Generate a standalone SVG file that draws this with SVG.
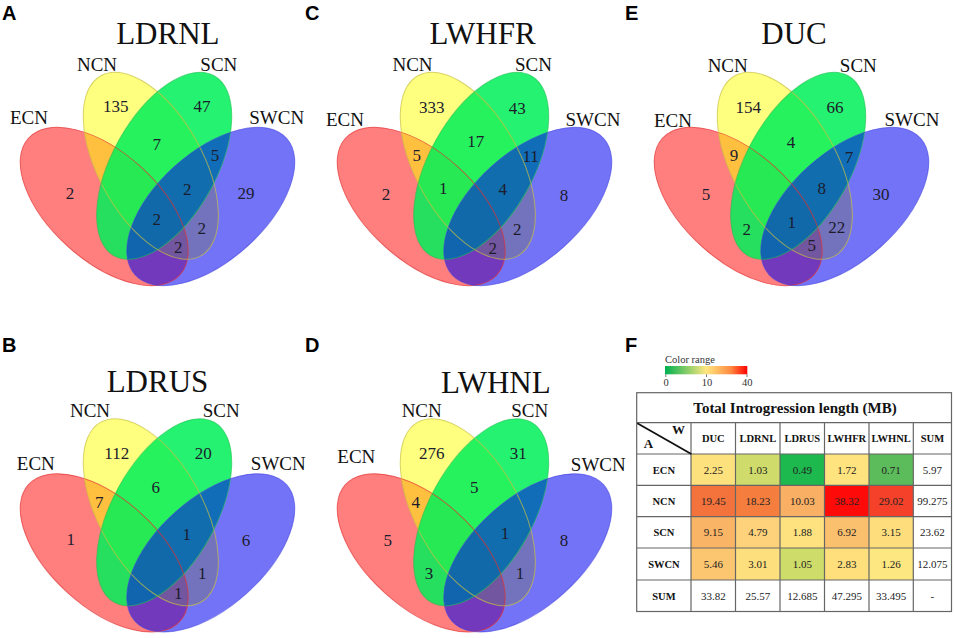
<svg xmlns="http://www.w3.org/2000/svg" xmlns:xlink="http://www.w3.org/1999/xlink" width="955" height="638" viewBox="0 0 955 638">
<style>
.t{font-family:"Liberation Serif","Times New Roman",serif;fill:#111}
.title{font-size:31px;text-anchor:middle}
.lab{font-size:19px;text-anchor:middle}
.num{font-size:17px;text-anchor:middle;fill:#1c1c2c}
.pl{font-family:"Liberation Sans",Arial,sans-serif;font-weight:bold;font-size:20px;fill:#000}
.fE{fill:#ff0000;fill-opacity:0.5}
.fN{fill:#ffff00;fill-opacity:0.5}
.fS{fill:#00f058;fill-opacity:0.85}
.fW{fill:#0000f0;fill-opacity:0.55}
.oE{fill:none;stroke:#e23030;stroke-opacity:0.7;stroke-width:1}
.oN{fill:none;stroke:#c8c040;stroke-opacity:0.7;stroke-width:1}
.oS{fill:none;stroke:#20c050;stroke-opacity:0.6;stroke-width:1}
.oW{fill:none;stroke:#4040e0;stroke-opacity:0.6;stroke-width:1}
.grid{stroke:#666;stroke-width:1.2;fill:none}
.th{font-family:"Liberation Serif","Times New Roman",serif;font-weight:bold;font-size:10.5px;text-anchor:middle;fill:#111}
.td{font-family:"Liberation Serif","Times New Roman",serif;font-size:11px;text-anchor:middle;fill:#222}
.sm{font-family:"Liberation Serif","Times New Roman",serif;font-size:10.5px;fill:#333}
</style>
<defs>
<ellipse id="eE" cx="0" cy="0" rx="102" ry="54" transform="translate(-53.3,44) rotate(42)"/>
<ellipse id="eN" cx="0" cy="0" rx="103" ry="52" transform="translate(-6.7,3.3) rotate(61)"/>
<ellipse id="eS" cx="0" cy="0" rx="103" ry="52" transform="translate(6.7,3.3) rotate(-61)"/>
<ellipse id="eW" cx="0" cy="0" rx="102" ry="54" transform="translate(53.3,44) rotate(-42)"/>
<g id="venn">
<use xlink:href="#eE" href="#eE" class="fE"/>
<use xlink:href="#eN" href="#eN" class="fN"/>
<use xlink:href="#eS" href="#eS" class="fS"/>
<use xlink:href="#eW" href="#eW" class="fW"/>
<use xlink:href="#eE" href="#eE" class="oE"/>
<use xlink:href="#eN" href="#eN" class="oN"/>
<use xlink:href="#eS" href="#eS" class="oS"/>
<use xlink:href="#eW" href="#eW" class="oW"/>
</g>
<linearGradient id="cr" x1="0" y1="0" x2="1" y2="0">
<stop offset="0" stop-color="#00b050"/>
<stop offset="0.5" stop-color="#ffe680"/>
<stop offset="0.8" stop-color="#ff8a40"/>
<stop offset="1" stop-color="#ff0000"/>
</linearGradient>
</defs>
<rect width="955" height="638" fill="#fff"/>

<!-- panel letters -->
<text class="pl" x="2" y="20">A</text>
<text class="pl" x="305" y="20">C</text>
<text class="pl" x="625" y="20">E</text>
<text class="pl" x="2" y="352">B</text>
<text class="pl" x="305" y="352">D</text>
<text class="pl" x="625" y="352">F</text>

<!-- Panel A -->
<g id="panelA" transform="translate(157.5,162.5)">
<use xlink:href="#venn" href="#venn"/>
<text class="t title" x="10.3" y="-118.5">LDRNL</text>
<text class="t lab" x="-60.5" y="-91.5">NCN</text>
<text class="t lab" x="61.3" y="-91.5">SCN</text>
<text class="t lab" x="-128.5" y="-38.5">ECN</text>
<text class="t lab" x="119.2" y="-38.5">SWCN</text>
<text class="t num" x="-41.8" y="-50.3">135</text>
<text class="t num" x="44.5" y="-50.3">47</text>
<text class="t num" x="-0.8" y="-13">7</text>
<text class="t num" x="57.5" y="-1.3">5</text>
<text class="t num" x="-87.5" y="36">2</text>
<text class="t num" x="29.8" y="32">2</text>
<text class="t num" x="88.5" y="36">29</text>
<text class="t num" x="-0.8" y="62.7">2</text>
<text class="t num" x="44.2" y="71.4">2</text>
<text class="t num" x="20.8" y="90.4">2</text>
</g>

<!-- Panel C -->
<g id="panelC" transform="translate(474.5,162.5)">
<use xlink:href="#venn" href="#venn"/>
<text class="t title" x="8" y="-118.5">LWHFR</text>
<text class="t lab" x="-62" y="-91.5">NCN</text>
<text class="t lab" x="59" y="-91.5">SCN</text>
<text class="t lab" x="-129.5" y="-36.5">ECN</text>
<text class="t lab" x="118.5" y="-37">SWCN</text>
<text class="t num" x="-42.8" y="-49.6">333</text>
<text class="t num" x="42.8" y="-49">43</text>
<text class="t num" x="1.2" y="-15.6">17</text>
<text class="t num" x="-57.8" y="-1.3">5</text>
<text class="t num" x="56.2" y="-0.3">11</text>
<text class="t num" x="-88.5" y="37">2</text>
<text class="t num" x="-31.2" y="31">1</text>
<text class="t num" x="28.2" y="32">4</text>
<text class="t num" x="89.5" y="38">8</text>
<text class="t num" x="42.8" y="72">2</text>
<text class="t num" x="18.2" y="91">2</text>
</g>

<!-- Panel E -->
<g id="panelE" transform="translate(791.5,162.5)">
<use xlink:href="#venn" href="#venn"/>
<text class="t title" x="2.5" y="-118.5">DUC</text>
<text class="t lab" x="-63.8" y="-91">NCN</text>
<text class="t lab" x="66.8" y="-91">SCN</text>
<text class="t lab" x="-118.5" y="-36">ECN</text>
<text class="t lab" x="120.5" y="-36.5">SWCN</text>
<text class="t num" x="-43.2" y="-49.6">154</text>
<text class="t num" x="43.5" y="-49.6">66</text>
<text class="t num" x="-0.5" y="-14.6">4</text>
<text class="t num" x="-57.5" y="-1.3">9</text>
<text class="t num" x="57.5" y="0.4">7</text>
<text class="t num" x="-85.5" y="37">5</text>
<text class="t num" x="30.2" y="31">8</text>
<text class="t num" x="89.5" y="37">30</text>
<text class="t num" x="-44.8" y="72">2</text>
<text class="t num" x="0.2" y="65.4">1</text>
<text class="t num" x="45.2" y="70.4">22</text>
<text class="t num" x="20.2" y="88.7">5</text>
</g>

<!-- Panel B -->
<g id="panelB" transform="translate(157.5,508.9)">
<use xlink:href="#venn" href="#venn"/>
<text class="t title" x="0" y="-117.2">LDRUS</text>
<text class="t lab" x="-67.5" y="-91.6">NCN</text>
<text class="t lab" x="63.7" y="-91.6">SCN</text>
<text class="t lab" x="-121.7" y="-38.9">ECN</text>
<text class="t lab" x="120.8" y="-38.9">SWCN</text>
<text class="t num" x="-40.8" y="-49.6">112</text>
<text class="t num" x="45.8" y="-49.6">20</text>
<text class="t num" x="-1.8" y="-16.2">6</text>
<text class="t num" x="-58.2" y="-1.2">7</text>
<text class="t num" x="-86.8" y="36.1">1</text>
<text class="t num" x="29.2" y="31.4">1</text>
<text class="t num" x="88.5" y="37.1">6</text>
<text class="t num" x="44.8" y="69.8">1</text>
<text class="t num" x="20.8" y="90.4">1</text>
</g>

<!-- Panel D -->
<g id="panelD" transform="translate(474.5,508.9)">
<use xlink:href="#venn" href="#venn"/>
<text class="t title" x="21.3" y="-116.2">LWHNL</text>
<text class="t lab" x="-52.8" y="-92.2">NCN</text>
<text class="t lab" x="55.2" y="-92.2">SCN</text>
<text class="t lab" x="-118.2" y="-46.2">ECN</text>
<text class="t lab" x="123.8" y="-38.2">SWCN</text>
<text class="t num" x="-42.8" y="-49.6">276</text>
<text class="t num" x="43.8" y="-49.6">31</text>
<text class="t num" x="-0.2" y="-16.2">5</text>
<text class="t num" x="-58.8" y="-1.2">4</text>
<text class="t num" x="-86.8" y="37.1">5</text>
<text class="t num" x="30.5" y="30.4">1</text>
<text class="t num" x="89.5" y="37.1">8</text>
<text class="t num" x="-45.5" y="70.4">3</text>
<text class="t num" x="45.5" y="70.4">1</text>
</g>

<!-- Panel F -->
<g id="panelF">
<text class="sm" x="665" y="362.7">Color range</text>
<rect x="665" y="366" width="82.3" height="8.3" fill="url(#cr)"/>
<g stroke="#555" stroke-width="0.8">
<line x1="665.8" y1="374.3" x2="665.8" y2="377"/>
<line x1="706.5" y1="374.3" x2="706.5" y2="377"/>
<line x1="747" y1="374.3" x2="747" y2="377"/>
</g>
<text class="sm" x="666" y="385.5" text-anchor="middle">0</text>
<text class="sm" x="707" y="385.5" text-anchor="middle">10</text>
<text class="sm" x="747.3" y="385.5" text-anchor="middle">40</text>

<g id="cells">
<rect x="691" y="454" width="44.5" height="31.3" fill="#fde17c"/>
<rect x="735.5" y="454" width="44.5" height="31.3" fill="#cfdc6c"/>
<rect x="780" y="454" width="44.5" height="31.3" fill="#1db84e"/>
<rect x="824.5" y="454" width="44.5" height="31.3" fill="#fee37e"/>
<rect x="869" y="454" width="44.3" height="31.3" fill="#5cbb5a"/>

<rect x="691" y="485.3" width="44.5" height="31.4" fill="#f4733c"/>
<rect x="735.5" y="485.3" width="44.5" height="31.4" fill="#f57e3f"/>
<rect x="780" y="485.3" width="44.5" height="31.4" fill="#f9af64"/>
<rect x="824.5" y="485.3" width="44.5" height="31.4" fill="#fe0a08"/>
<rect x="869" y="485.3" width="44.3" height="31.4" fill="#f5412a"/>

<rect x="691" y="516.7" width="44.5" height="31.3" fill="#fab466"/>
<rect x="735.5" y="516.7" width="44.5" height="31.3" fill="#fdd27a"/>
<rect x="780" y="516.7" width="44.5" height="31.3" fill="#fee27f"/>
<rect x="824.5" y="516.7" width="44.5" height="31.3" fill="#fbc06e"/>
<rect x="869" y="516.7" width="44.3" height="31.3" fill="#fede7c"/>

<rect x="691" y="548" width="44.5" height="32" fill="#fcc670"/>
<rect x="735.5" y="548" width="44.5" height="32" fill="#fedf7d"/>
<rect x="780" y="548" width="44.5" height="32" fill="#cedc6a"/>
<rect x="824.5" y="548" width="44.5" height="32" fill="#fedf7c"/>
<rect x="869" y="548" width="44.3" height="32" fill="#fde780"/>
</g>

<g class="grid">
<rect x="636.7" y="392.7" width="314.8" height="218.8"/>
<line x1="636.7" y1="422.7" x2="951.5" y2="422.7"/>
<line x1="636.7" y1="454" x2="951.5" y2="454"/>
<line x1="636.7" y1="485.3" x2="951.5" y2="485.3"/>
<line x1="636.7" y1="516.7" x2="951.5" y2="516.7"/>
<line x1="636.7" y1="548" x2="951.5" y2="548"/>
<line x1="636.7" y1="580" x2="951.5" y2="580"/>
<line x1="691" y1="422.7" x2="691" y2="611.5"/>
<line x1="735.5" y1="422.7" x2="735.5" y2="611.5"/>
<line x1="780" y1="422.7" x2="780" y2="611.5"/>
<line x1="824.5" y1="422.7" x2="824.5" y2="611.5"/>
<line x1="869" y1="422.7" x2="869" y2="611.5"/>
<line x1="913.3" y1="422.7" x2="913.3" y2="611.5"/>
</g>
<line x1="637.3" y1="423.3" x2="691.3" y2="454" stroke="#111" stroke-width="1.8"/>

<text x="795" y="413.3" font-family="'Liberation Serif','Times New Roman',serif" font-weight="bold" font-size="15" text-anchor="middle" fill="#111">Total Introgression length (MB)</text>
<text class="th" x="678.5" y="434" style="font-size:13px">W</text>
<text class="th" x="648.5" y="447.5" style="font-size:13px">A</text>
<text class="th" x="713.3" y="442">DUC</text>
<text class="th" x="757.8" y="442">LDRNL</text>
<text class="th" x="802.3" y="442">LDRUS</text>
<text class="th" x="846.8" y="442">LWHFR</text>
<text class="th" x="891.2" y="442">LWHNL</text>
<text class="th" x="932.4" y="442">SUM</text>

<text class="th" x="663.9" y="473.5">ECN</text>
<text class="th" x="663.9" y="504.8">NCN</text>
<text class="th" x="663.9" y="536.2">SCN</text>
<text class="th" x="663.9" y="567.8">SWCN</text>
<text class="th" x="663.9" y="599.6">SUM</text>

<text class="td" x="713.3" y="473.6">2.25</text>
<text class="td" x="757.8" y="473.6">1.03</text>
<text class="td" x="802.3" y="473.6">0.49</text>
<text class="td" x="846.8" y="473.6">1.72</text>
<text class="td" x="891.2" y="473.6">0.71</text>
<text class="td" x="932.4" y="473.6">5.97</text>

<text class="td" x="713.3" y="504.9">19.45</text>
<text class="td" x="757.8" y="504.9">18.23</text>
<text class="td" x="802.3" y="504.9">10.03</text>
<text class="td" x="846.8" y="504.9">38.32</text>
<text class="td" x="891.2" y="504.9">29.02</text>
<text class="td" x="932.4" y="504.9">99.275</text>

<text class="td" x="713.3" y="536.3">9.15</text>
<text class="td" x="757.8" y="536.3">4.79</text>
<text class="td" x="802.3" y="536.3">1.88</text>
<text class="td" x="846.8" y="536.3">6.92</text>
<text class="td" x="891.2" y="536.3">3.15</text>
<text class="td" x="932.4" y="536.3">23.62</text>

<text class="td" x="713.3" y="567.9">5.46</text>
<text class="td" x="757.8" y="567.9">3.01</text>
<text class="td" x="802.3" y="567.9">1.05</text>
<text class="td" x="846.8" y="567.9">2.83</text>
<text class="td" x="891.2" y="567.9">1.26</text>
<text class="td" x="932.4" y="567.9">12.075</text>

<text class="td" x="713.3" y="599.7">33.82</text>
<text class="td" x="757.8" y="599.7">25.57</text>
<text class="td" x="802.3" y="599.7">12.685</text>
<text class="td" x="846.8" y="599.7">47.295</text>
<text class="td" x="891.2" y="599.7">33.495</text>
<text class="td" x="932.4" y="599.7">-</text>
</g>
</svg>
